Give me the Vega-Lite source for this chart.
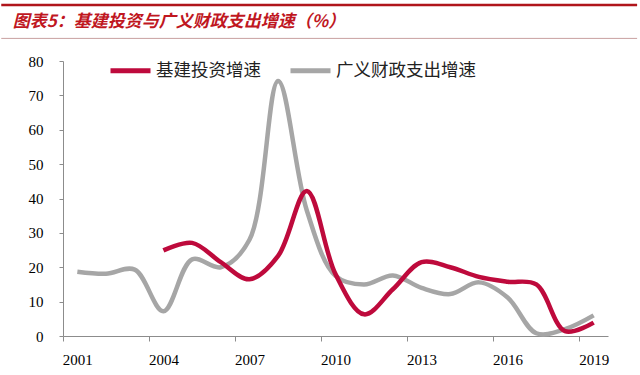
{
  "$schema": "https://vega.github.io/schema/vega-lite/v6.json",
  "padding": {"left": 0, "top": 3, "right": 0, "bottom": 0},
  "autosize": {"type": "pad"},
  "background": "white",
  "spacing": 15,
  "config": {
    "view": {"stroke": null},
    "axis": {"labelFont": "Liberation Serif", "grid": false}
  },
  "vconcat": [
    {
      "width": 577,
      "height": 33.4,
      "data": {"values": [{"t": "图表5：基建投资与广义财政支出增速（%）"}]},
      "encoding": {
        "x": {"datum": -0.107, "type": "quantitative", "scale": {"domain": [0, 1]}, "axis": null},
        "x2": {"datum": 0.995},
        "y": {"datum": 1, "type": "quantitative", "scale": {"domain": [0, 1]}, "axis": null}
      },
      "layer": [
        {"mark": {"type": "rule", "color": "#B0151B", "strokeWidth": 2.5}},
        {"mark": {"type": "rule", "color": "#C9A0A0", "strokeWidth": 1},
         "encoding": {"y": {"datum": 0, "type": "quantitative"}}},
        {
          "mark": {"type": "text", "align": "left", "baseline": "middle", "font": "Noto Sans CJK SC", "fontStyle": "italic", "fontWeight": "bold", "fontSize": 17, "color": "#C0171F"},
          "encoding": {
            "x": {"datum": -0.087, "type": "quantitative"},
            "x2": null,
            "y": {"datum": 0.5, "type": "quantitative"},
            "text": {"field": "t"}
          }
        }
      ]
    },
    {
      "width": 545,
      "height": 275,
      "data": {"values": [
        {"year": 2001, "series": "广义财政支出增速", "value": 18.7},
        {"year": 2002, "series": "广义财政支出增速", "value": 18.1},
        {"year": 2003, "series": "广义财政支出增速", "value": 19.3},
        {"year": 2004, "series": "广义财政支出增速", "value": 7.2},
        {"year": 2005, "series": "广义财政支出增速", "value": 22.3},
        {"year": 2006, "series": "广义财政支出增速", "value": 20.0},
        {"year": 2007, "series": "广义财政支出增速", "value": 28.0},
        {"year": 2008, "series": "广义财政支出增速", "value": 74.2},
        {"year": 2009, "series": "广义财政支出增速", "value": 36.5},
        {"year": 2010, "series": "广义财政支出增速", "value": 17.5},
        {"year": 2011, "series": "广义财政支出增速", "value": 15.0},
        {"year": 2012, "series": "广义财政支出增速", "value": 17.6},
        {"year": 2013, "series": "广义财政支出增速", "value": 14.0},
        {"year": 2014, "series": "广义财政支出增速", "value": 12.2},
        {"year": 2015, "series": "广义财政支出增速", "value": 15.6},
        {"year": 2016, "series": "广义财政支出增速", "value": 11.2},
        {"year": 2017, "series": "广义财政支出增速", "value": 0.8},
        {"year": 2018, "series": "广义财政支出增速", "value": 2.0},
        {"year": 2019, "series": "广义财政支出增速", "value": 6.0},
        {"year": 2004, "series": "基建投资增速", "value": 24.9},
        {"year": 2005, "series": "基建投资增速", "value": 27.1},
        {"year": 2006, "series": "基建投资增速", "value": 21.5},
        {"year": 2007, "series": "基建投资增速", "value": 16.5},
        {"year": 2008, "series": "基建投资增速", "value": 23.3},
        {"year": 2009, "series": "基建投资增速", "value": 42.2},
        {"year": 2010, "series": "基建投资增速", "value": 18.0},
        {"year": 2011, "series": "基建投资增速", "value": 6.3},
        {"year": 2012, "series": "基建投资增速", "value": 13.6},
        {"year": 2013, "series": "基建投资增速", "value": 21.5},
        {"year": 2014, "series": "基建投资增速", "value": 20.0},
        {"year": 2015, "series": "基建投资增速", "value": 17.2},
        {"year": 2016, "series": "基建投资增速", "value": 15.8},
        {"year": 2017, "series": "基建投资增速", "value": 15.0},
        {"year": 2018, "series": "基建投资增速", "value": 1.4},
        {"year": 2019, "series": "基建投资增速", "value": 3.9}
      ]},
      "mark": {"type": "line", "interpolate": "catmull-rom", "strokeWidth": 4.5, "strokeCap": "butt"},
      "encoding": {
        "x": {
          "field": "year", "type": "ordinal", "bandPosition": 0.5,
          "scale": {"type": "band", "paddingInner": 0, "paddingOuter": 0,
            "domain": [2001, 2002, 2003, 2004, 2005, 2006, 2007, 2008, 2009, 2010, 2011, 2012, 2013, 2014, 2015, 2016, 2017, 2018, 2019]},
          "axis": {
            "values": [2001, 2004, 2007, 2010, 2013, 2016, 2019],
            "title": null, "labelAngle": 0,
            "domainColor": "#8C8C8C", "tickColor": "#8C8C8C", "tickSize": 5,
            "tickOffset": -14.35, "labelOffset": 14.35,
            "labelFontSize": 15, "labelColor": "#000000", "labelPadding": 11
          }
        },
        "y": {
          "field": "value", "type": "quantitative",
          "scale": {"domain": [0, 80], "nice": false},
          "axis": {
            "values": [0, 10, 20, 30, 40, 50, 60, 70, 80],
            "title": null,
            "domainColor": "#8C8C8C", "tickColor": "#8C8C8C", "tickSize": 4,
            "labelFontSize": 15, "labelColor": "#000000", "labelPadding": 16,
            "minExtent": 63, "maxExtent": 63
          }
        },
        "color": {
          "field": "series", "type": "nominal",
          "scale": {"domain": ["基建投资增速", "广义财政支出增速"], "range": ["#BE0A3C", "#A6A6A6"]},
          "legend": {
            "title": null, "orient": "none", "direction": "horizontal", "columns": 2,
            "legendX": 45, "legendY": 43, "padding": 0,
            "symbolType": "stroke", "symbolSize": 1600, "symbolStrokeWidth": 5,
            "labelFont": "Noto Sans CJK SC", "labelFontSize": 17.5, "labelColor": "#222222",
            "labelOffset": 3, "columnPadding": 19
          }
        }
      }
    }
  ]
}
